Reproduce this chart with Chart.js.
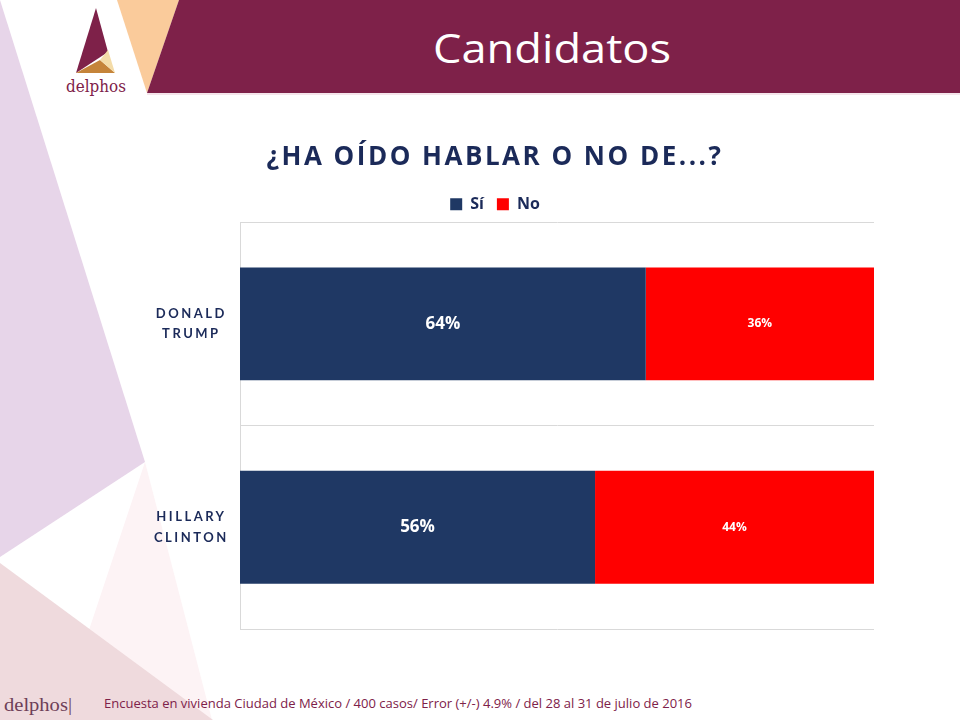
<!DOCTYPE html>
<html>
<head>
<meta charset="utf-8">
<script src="https://cdn.jsdelivr.net/npm/chart.js@4/dist/chart.umd.min.js"></script>
<style>
  html, body { margin: 0; padding: 0; background: #fff; }
  #page { position: relative; width: 960px; height: 720px; overflow: hidden; font-family: "Open Sans", sans-serif; }
  #bg { position: absolute; left: 0; top: 0; }
  #wrap { position: absolute; left: 0; top: 120px; width: 960px; height: 530px; }
</style>
</head>
<body>
<div id="page">
  <svg id="bg" width="960" height="720" xmlns="http://www.w3.org/2000/svg">
    <!-- left decoration -->
    <polygon points="0,0 145,462 0,557" fill="#E7D5E9"/>
    <polygon points="145,462 59,720 212,720" fill="#FDF3F5"/>
    <polygon points="0,563 213,720 0,720" fill="#EFDADD"/>
    <!-- header -->
    <polygon points="117,0 179,0 147,93" fill="#FACB9B"/>
    <polygon points="179,0 960,0 960,93 147,93" fill="#7E2149"/>
    <line x1="147" y1="94" x2="960" y2="94" stroke="#EBCAD6" stroke-width="1"/>
    <text x="552" y="63" fill="#ffffff" font-family="'Open Sans', sans-serif" font-size="40"
          text-anchor="middle" textLength="238" lengthAdjust="spacingAndGlyphs">Candidatos</text>
    <!-- logo -->
    <polygon points="96,8 76,73 108,52" fill="#7E2149"/>
    <polygon points="76,73 115,73 100,60" fill="#C5843A"/>
    <polygon points="100,60 115,73 108,50" fill="#F4DCA8"/>
    <text x="96" y="92" fill="#7E2149" font-family="'DejaVu Serif', serif" font-size="17"
          text-anchor="middle" textLength="60" lengthAdjust="spacingAndGlyphs">delphos</text>
    <!-- footer -->
    <text x="4" y="711" fill="#6E3F58" font-family="'Liberation Serif', serif" font-size="19"
          textLength="68" lengthAdjust="spacingAndGlyphs">delphos|</text>
    <text x="104" y="708" fill="#7E2149" font-family="'Open Sans', sans-serif" font-size="12.5"
          textLength="588" lengthAdjust="spacingAndGlyphs">Encuesta en vivienda Ciudad de México / 400 casos/ Error (+/-) 4.9%  / del 28 al 31 de julio de 2016</text>
  </svg>
  <div id="wrap"><canvas id="chart"></canvas></div>
</div>
<script>
const candidates = [['DONALD', 'TRUMP'], ['HILLARY', 'CLINTON']];
const siValues = [64, 56];
const noValues = [36, 44];

const navy = '#1F3864';
const red = '#FF0000';
const textNavy = '#1B2A59';

// wide letter spacing for title and category labels, none for legend and bar labels
const spacing = {
    id: 'spacing',
    afterInit(chart) {
        const legend = chart.legend;
        if (legend) {
            const orig = legend.draw.bind(legend);
            legend.draw = function () {
                const prev = chart.ctx.letterSpacing;
                chart.ctx.letterSpacing = '0px';
                orig();
                chart.ctx.letterSpacing = prev;
            };
        }
    },
    beforeDraw(chart) { chart.ctx.letterSpacing = '2.5px'; },
    beforeDatasetsDraw(chart) { chart.ctx.letterSpacing = '0px'; }
};

const barLabels = {
    id: 'barLabels',
    afterDatasetsDraw(chart) {
        const ctx = chart.ctx;
        ctx.save();
        ctx.fillStyle = '#ffffff';
        ctx.textAlign = 'center';
        ctx.textBaseline = 'middle';
        chart.data.datasets.forEach((ds, i) => {
            const size = i === 0 ? 17 : 12;
            ctx.font = 'bold ' + size + 'px "Open Sans", sans-serif';
            chart.getDatasetMeta(i).data.forEach((bar, j) => {
                const p = bar.getCenterPoint();
                ctx.fillText(ds.data[j] + '%', p.x, p.y);
            });
        });
        ctx.restore();
    }
};

new Chart(document.getElementById('chart'), {
    type: 'bar',
    data: {
        labels: candidates,
        datasets: [
            { label: 'Sí', data: siValues, backgroundColor: navy, barPercentage: 0.555, categoryPercentage: 1 },
            { label: 'No', data: noValues, backgroundColor: red, barPercentage: 0.555, categoryPercentage: 1 }
        ]
    },
    options: {
        indexAxis: 'y',
        responsive: true,
        maintainAspectRatio: false,
        animation: false,
        layout: { padding: { left: 116, right: 86, top: 12, bottom: 21 } },
        scales: {
            x: { stacked: true, min: 0, max: 100, display: false },
            y: {
                stacked: true,
                grid: { color: '#D9D9D9', drawTicks: false, offset: true },
                border: { display: true, color: '#D9D9D9' },
                ticks: {
                    color: textNavy,
                    padding: 20,
                    crossAlign: 'center',
                    font: { family: 'Lato, "Open Sans", sans-serif', size: 13, weight: 'bold', lineHeight: 1.55 }
                },
                afterFit(scale) {
                    scale.width = 124;
                    scale.paddingTop = 0;
                    scale.paddingBottom = 0;
                }
            }
        },
        plugins: {
            title: {
                display: true,
                text: '¿HA OÍDO HABLAR O NO DE...?',
                color: textNavy,
                font: { family: '"Open Sans", sans-serif', size: 26, weight: 'bold' },
                padding: { top: 10, bottom: 10 }
            },
            legend: {
                display: true,
                position: 'top',
                labels: {
                    boxWidth: 12,
                    boxHeight: 12,
                    color: textNavy,
                    font: { family: '"Open Sans", sans-serif', size: 16, weight: 'bold' },
                    padding: 13
                }
            },
            tooltip: { enabled: false }
        }
    },
    plugins: [spacing, barLabels]
});
</script>
</body>
</html>
